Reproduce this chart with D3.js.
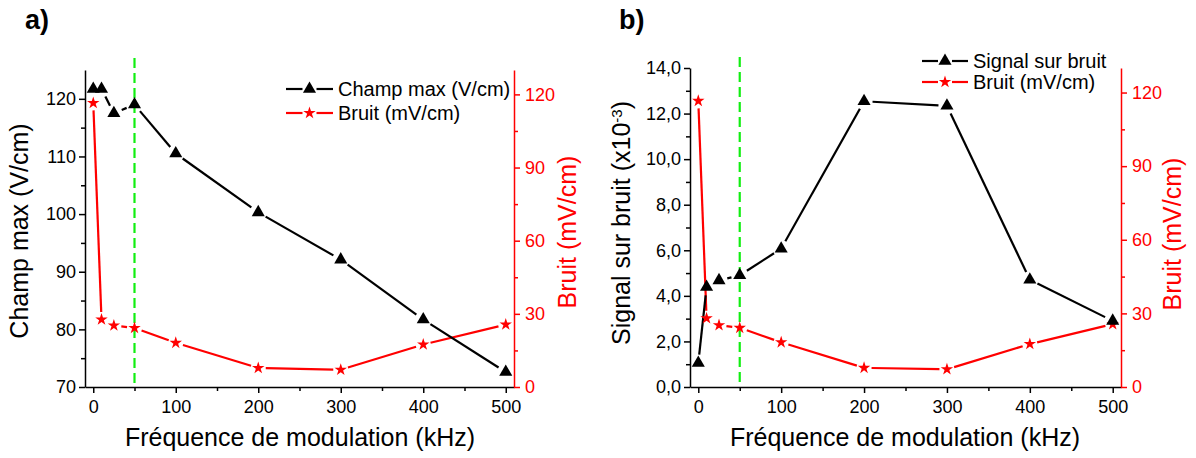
<!DOCTYPE html>
<html><head><meta charset="utf-8">
<script src="https://cdn.jsdelivr.net/npm/d3@7"></script>
<style>
body{margin:0;background:#fff;}
svg text{font-family:"Liberation Sans",Arial,Helvetica,sans-serif;}
</style></head>
<body><svg id="c" width="1196" height="458"></svg>
<script>
// ---- data ----
const freq = [0, 10, 25, 50, 100, 200, 300, 400, 500];
const champMax = [121.7, 121.7, 117.5, 119.0, 110.5, 100.3, 92.1, 81.7, 72.6];
const bruitA = [116.5, 27.7, 25.2, 24.2, 18.1, 7.8, 7.1, 17.4, 25.6];
const signalBruit = [1.05, 4.39, 4.68, 4.9, 6.07, 12.54, 12.34, 4.71, 2.9];
const bruitB = [116.6, 28.0, 25.2, 24.1, 18.2, 7.8, 7.2, 17.5, 25.6];
const xTicks = [0, 100, 200, 300, 400, 500];
const champTicks = [70, 80, 90, 100, 110, 120];
const bruitTicks = [0, 30, 60, 90, 120];
const sbTicks = [0, 2, 4, 6, 8, 10, 12, 14];
const markerFreq = 50;

const svg = d3.select("#c");
const RED = "#ff0000", GREEN = "#11ee11";

function trimmedSegments(g, pts, color, gap){
  for(let i=0;i<pts.length-1;i++){
    const [x1,y1]=pts[i],[x2,y2]=pts[i+1];
    const dx=x2-x1, dy=y2-y1, L=Math.hypot(dx,dy);
    if(L<=2*gap) continue;
    const ux=dx/L, uy=dy/L;
    g.append("line").attr("x1",x1+ux*gap).attr("y1",y1+uy*gap)
      .attr("x2",x2-ux*gap).attr("y2",y2-uy*gap)
      .attr("stroke",color).attr("stroke-width",2.2);
  }
}

function styleAxis(sel, color, fs){
  sel.select(".domain").attr("stroke",color).attr("stroke-width",1.5);
  sel.selectAll(".tick line").attr("stroke",color).attr("stroke-width",1.5);
  sel.selectAll(".tick text").attr("fill",color).attr("font-size",fs)
     .attr("font-family","Liberation Sans, Arial, sans-serif");
}

function minorVals(majors, step){
  const out=[];
  for(let i=0;i<majors.length-1;i++) out.push(majors[i]+step);
  return out;
}

function panel(opt){
  const g = svg.append("g");
  const x = d3.scaleLinear().domain([-10,510]).range(opt.xr);
  const yL = d3.scaleLinear().domain(opt.yLdom).range([387, opt.yLtop]);
  const yR = d3.scaleLinear().domain([0,130]).range([387, opt.yRtop]);

  // minor ticks
  g.append("g").attr("transform","translate(0,387)")
    .call(d3.axisBottom(x).tickValues(minorVals(xTicks,50)).tickSize(4).tickFormat(""))
    .call(s=>{s.select(".domain").remove(); s.selectAll("line").attr("stroke","#000").attr("stroke-width",1.5);});
  g.append("g").attr("transform",`translate(${opt.xr[0]},0)`)
    .call(d3.axisLeft(yL).tickValues(minorVals(opt.yLticks,opt.yLminor)).tickSize(4).tickFormat(""))
    .call(s=>{s.select(".domain").remove(); s.selectAll("line").attr("stroke","#000").attr("stroke-width",1.5);});
  g.append("g").attr("transform",`translate(${opt.xr[1]},0)`)
    .call(d3.axisRight(yR).tickValues(minorVals(bruitTicks,15)).tickSize(4).tickFormat(""))
    .call(s=>{s.select(".domain").remove(); s.selectAll("line").attr("stroke",RED).attr("stroke-width",1.5);});

  // major axes
  g.append("g").attr("transform","translate(0,387)")
    .call(d3.axisBottom(x).tickValues(xTicks).tickSize(6).tickSizeOuter(0).tickPadding(7))
    .call(s=>styleAxis(s,"#000",18));
  g.append("g").attr("transform",`translate(${opt.xr[0]},0)`)
    .call(d3.axisLeft(yL).tickValues(opt.yLticks).tickFormat(opt.fmt).tickSize(6).tickSizeOuter(0).tickPadding(3))
    .call(s=>styleAxis(s,"#000",18));
  g.append("g").attr("transform",`translate(${opt.xr[1]},0)`)
    .call(d3.axisRight(yR).tickValues(bruitTicks).tickSize(6).tickSizeOuter(0).tickPadding(5))
    .call(s=>styleAxis(s,RED,18));

  // green dashed reference line
  g.append("line").attr("x1",x(markerFreq)).attr("x2",x(markerFreq))
    .attr("y1",opt.greenTop).attr("y2",yL.range()[0])
    .attr("stroke",GREEN).attr("stroke-width",2.2).attr("stroke-dasharray","10,5");

  // series lines
  const ptsB = freq.map((f,i)=>[x(f), yL(opt.left[i])]);
  const ptsR = freq.map((f,i)=>[x(f), yR(opt.right[i])]);
  trimmedSegments(g, ptsR, RED, 7.5);
  trimmedSegments(g, ptsB, "#000", 8.5);
  const tri = d3.symbol().type(d3.symbolTriangle).size(74)();
  const star = d3.symbol().type(d3.symbolStar).size(48)();
  g.selectAll(null).data(ptsR).join("path").attr("d",star)
    .attr("transform",d=>`translate(${d[0]},${d[1]})`).attr("fill",RED);
  g.selectAll(null).data(ptsB).join("path").attr("d",tri)
    .attr("transform",d=>`translate(${d[0]},${d[1]})`).attr("fill","#000");

  // legend
  const lg = g.append("g");
  opt.legend.forEach((it,i)=>{
    const cy = opt.legY[i];
    const [lx0,lx1] = opt.legX;
    const mid=(lx0+lx1)/2;
    lg.append("line").attr("x1",lx0).attr("x2",mid-7).attr("y1",cy).attr("y2",cy).attr("stroke",it.c).attr("stroke-width",2.2);
    lg.append("line").attr("x1",mid+7).attr("x2",lx1).attr("y1",cy).attr("y2",cy).attr("stroke",it.c).attr("stroke-width",2.2);
    lg.append("path").attr("d", it.m==="tri"?tri:star).attr("transform",`translate(${mid},${cy})`).attr("fill",it.c);
    lg.append("text").attr("x",lx1+5).attr("y",cy+7).attr("font-size",20).attr("fill","#000").text(it.t);
  });

  // titles
  g.append("text").attr("x",opt.xTitleX).attr("y",446).attr("text-anchor","middle")
    .attr("font-size",25).text("Fréquence de modulation (kHz)");
  const lt = g.append("text").attr("transform",`translate(${opt.lTitle[0]},${opt.lTitle[1]}) rotate(-90)`)
    .attr("text-anchor","middle").attr("font-size",25);
  opt.lTitleFn(lt);
  g.append("text").attr("transform",`translate(${opt.rTitle[0]},${opt.rTitle[1]}) rotate(-90)`)
    .attr("text-anchor","middle").attr("font-size",25).attr("fill",RED).text("Bruit (mV/cm)");
  g.append("text").attr("x",opt.label[0]).attr("y",opt.label[1]).attr("font-size",27)
    .attr("font-weight","bold").text(opt.labelText);
}

panel({
  xr:[85,514], yLdom:[70,125], yLtop:70, yRtop:70,
  yLticks:champTicks, yLminor:5, fmt:d3.format("d"),
  left:champMax, right:bruitA, greenTop:58,
  legend:[{t:"Champ max (V/cm)",c:"#000",m:"tri"},{t:"Bruit (mV/cm)",c:RED,m:"star"}],
  legX:[286,333], legY:[89,113],
  xTitleX:300, lTitle:[28,231], rTitle:[576,232],
  lTitleFn:t=>t.text("Champ max (V/cm)"),
  label:[25,29], labelText:"a)"
});

panel({
  xr:[690,1121], yLdom:[0,14], yLtop:68, yRtop:68,
  yLticks:sbTicks, yLminor:1, fmt:d=>d3.format(".1f")(d).replace(".",","),
  left:signalBruit, right:bruitB, greenTop:57,
  legend:[{t:"Signal sur bruit",c:"#000",m:"tri"},{t:"Bruit (mV/cm)",c:RED,m:"star"}],
  legX:[922,968], legY:[61,82],
  xTitleX:905, lTitle:[630,223], rTitle:[1181,234],
  lTitleFn:t=>{t.append("tspan").text("Signal sur bruit (x10");
    t.append("tspan").attr("font-size",15).attr("baseline-shift","super").text("-3");
    t.append("tspan").text(")");},
  label:[619,29], labelText:"b)"
});
</script></body></html>
